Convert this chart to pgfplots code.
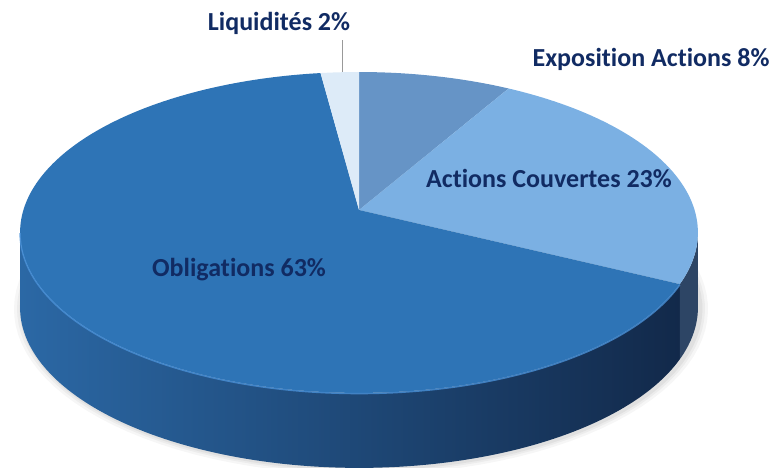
\documentclass[border=0pt]{standalone}
\usepackage{pgfplots}
\pgfplotsset{compat=1.18}
\usepackage{pgfplotstable}
\usepackage{fontspec}
\setmainfont{Carlito}[Ligatures={NoCommon,NoRare}]
\definecolor{cExpo}{HTML}{6694C6}
\definecolor{cAct}{HTML}{7BB0E3}
\definecolor{cObl}{HTML}{2E74B6}
\definecolor{cLiq}{HTML}{DDEBF8}
\definecolor{sideL}{HTML}{2B68A5}
\definecolor{sideM}{HTML}{1D4676}
\definecolor{sideR}{HTML}{12294A}
\definecolor{sideAct}{HTML}{2D4565}
\definecolor{rim}{HTML}{4A91D8}
\definecolor{lbl}{HTML}{112B63}

\pgfplotstableread{
name value
Exposition 8
Actions 23
Obligations 63
Liquidites 2
}\piedata

\begin{document}
\begin{tikzpicture}
\pgfplotstablegetelem{0}{value}\of\piedata \let\vA\pgfplotsretval
\pgfplotstablegetelem{1}{value}\of\piedata \let\vB\pgfplotsretval
\pgfplotstablegetelem{2}{value}\of\piedata \let\vC\pgfplotsretval
\pgfplotstablegetelem{3}{value}\of\piedata \let\vD\pgfplotsretval
\pgfmathsetmacro{\tot}{\vA+\vB+\vC+\vD}
\pgfmathsetmacro{\unit}{360/\tot}
\pgfmathsetmacro{\aA}{90-\unit*\vA}
\pgfmathsetmacro{\aB}{\aA-\unit*\vB}
\pgfmathsetmacro{\aC}{\aB-\unit*\vC}
\pgfmathsetmacro{\aD}{\aC-\unit*\vD}
\def\pcx{359}\def\pcy{258}\def\pA{335.6}\def\pB{157.3}\def\pK{0.14}\def\ph{75}
\pgfmathsetmacro{\sL}{-180+asin(\pK)}
\pgfmathsetmacro{\sR}{-asin(\pK)}
\def\PX(#1){\pcx+\pA*cos(#1)/(1+\pK*sin(#1))}
\def\PY(#1){\pcy+\pB*sin(#1)/(1+\pK*sin(#1))}
\def\QX(#1,#2){\pcx+(\pA+#2)*cos(#1)/(1+\pK*sin(#1))+2}
\def\QY(#1,#2){\pcy+(\pB+#2)*sin(#1)/(1+\pK*sin(#1))-\ph-1}
\begin{axis}[x=1bp,y=1bp,xmin=0,xmax=771,ymin=0,ymax=468,hide axis,clip=false]
% soft shadow
\fill[black,opacity=0.035] plot[domain=0:360,samples=120,variable=\t] ({\QX(\t,8)},{\QY(\t,5)}) -- cycle;
\fill[black,opacity=0.04] plot[domain=0:360,samples=120,variable=\t] ({\QX(\t,5)},{\QY(\t,3)}) -- cycle;
\fill[black,opacity=0.05] plot[domain=0:360,samples=120,variable=\t] ({\QX(\t,2.5)},{\QY(\t,1.5)}) -- cycle;
% sides
\shade[left color=sideL, middle color=sideM, right color=sideR]
  plot[domain=\sL:\aB,samples=120,variable=\t] ({\PX(\t)},{\PY(\t)})
  -- plot[domain=\aB:\sL,samples=120,variable=\t] ({\PX(\t)},{\PY(\t)-\ph}) -- cycle;
\fill[sideAct]
  plot[domain=\aB:\sR,samples=20,variable=\t] ({\PX(\t)},{\PY(\t)})
  -- plot[domain=\sR:\aB,samples=20,variable=\t] ({\PX(\t)},{\PY(\t)-\ph}) -- cycle;
% top faces
\fill[cExpo] (\pcx,\pcy) -- plot[domain=90:\aA,samples=40,variable=\t] ({\PX(\t)},{\PY(\t)}) -- cycle;
\fill[cAct] (\pcx,\pcy) -- plot[domain=\aA:\aB,samples=60,variable=\t] ({\PX(\t)},{\PY(\t)}) -- cycle;
\fill[cObl] (\pcx,\pcy) -- plot[domain=\aB:\aC,samples=180,variable=\t] ({\PX(\t)},{\PY(\t)}) -- cycle;
\fill[cLiq] (\pcx,\pcy) -- plot[domain=\aC:\aD,samples=10,variable=\t] ({\PX(\t)},{\PY(\t)}) -- cycle;
% rim highlight
\draw[rim,line width=1.4bp,opacity=0.8] plot[domain=\sL:\aB,samples=120,variable=\t] ({\PX(\t)},{\PY(\t)-0.7});
% leader line
\draw[black!40,line width=0.6bp] (342,396) -- (342,428);
% labels
\tikzset{plbl/.style={anchor=base,text=lbl,font=\bfseries\fontsize{26bp}{30bp}\selectfont,inner sep=0pt}}
\node[plbl] at (279,437) {Liquidités 2\%};
\node[plbl] at (651,401) {Exposition Actions 8\%};
\node[plbl] at (549,281) {Actions Couvertes 23\%};
\node[plbl] at (239,192) {Obligations 63\%};
\end{axis}
\pgfresetboundingbox
\useasboundingbox (0,0) rectangle (771bp,468bp);
\end{tikzpicture}
\end{document}
